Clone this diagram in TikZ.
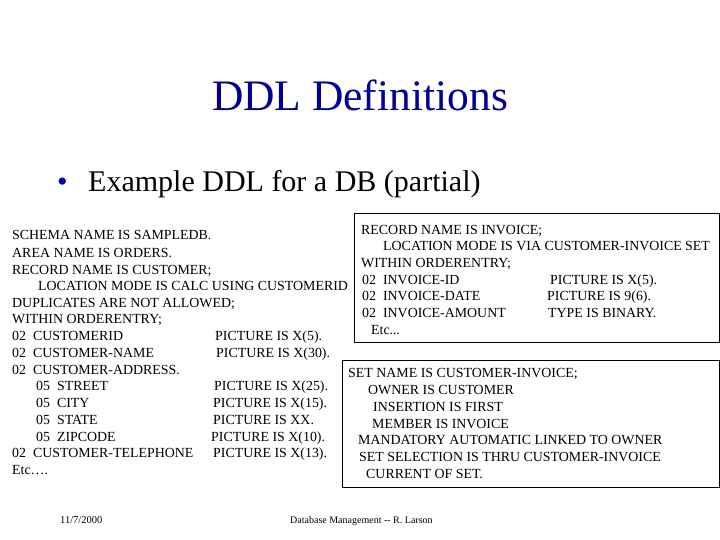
\documentclass[tikz,border=0pt]{standalone}
\usepackage{fontspec}
\setmainfont{Liberation Serif}
\begin{document}
\begin{tikzpicture}[x=1pt,y=-1pt,
  t/.style={anchor=base west,inner sep=0pt,font=\fontsize{13.9}{14}\selectfont},
  box/.style={draw,line width=0.8pt}]
\useasboundingbox (0,0) rectangle (720,540);
\node[inner sep=0pt,font=\fontsize{43.5}{46}\selectfont,text=blue!60!black] (title) at (360,95) {DDL Definitions};
\node[t,font=\fontsize{30}{32}\selectfont,text=blue!60!black] (bul) at (57,192) {•};
\node[t,font=\fontsize{30}{32}\selectfont] (sub) at (88,192) {Example DDL for a DB (partial)};
\foreach \n/\x/\y/\s in {
 l1/12/240/SCHEMA NAME IS SAMPLEDB.,
 l2/12/257/AREA NAME IS ORDERS.,
 l3/12/274/RECORD NAME IS CUSTOMER;,
 l4/38/290/LOCATION MODE IS CALC USING CUSTOMERID,
 l5/12/307/DUPLICATES ARE NOT ALLOWED;,
 l6/12/323/WITHIN ORDERENTRY;,
 l7/12/340/02~ CUSTOMERID,
 l8/12/357/02~ CUSTOMER-NAME,
 l9/12/374/02~ CUSTOMER-ADDRESS.,
 l10/36/390/05~ STREET,
 l11/36/407/05~ CITY,
 l12/36/424/05~ STATE,
 l13/36/441/05~ ZIPCODE,
 l14/12/457/02~ CUSTOMER-TELEPHONE,
 l15/12/474/{Etc….},
 p1/215/340/PICTURE IS X(5).,
 p2/216/357/PICTURE IS X(30).,
 p3/214/390/PICTURE IS X(25).,
 p4/213/407/PICTURE IS X(15).,
 p5/213/424/PICTURE IS XX.,
 p6/211/441/PICTURE IS X(10).,
 p7/213/457/PICTURE IS X(13).,
 r1/361/234/RECORD NAME IS INVOICE;,
 r2/383/250/LOCATION MODE IS VIA CUSTOMER-INVOICE SET,
 r3/361/267/WITHIN ORDERENTRY;,
 r4/362/284/02~ INVOICE-ID,
 r5/362/300/02~ INVOICE-DATE,
 r6/362/317/02~ INVOICE-AMOUNT,
 r7/371/334/{Etc.\kern-0.1pt.\kern-0.1pt.},
 q1/550/284/PICTURE IS X(5).,
 q2/547/300/PICTURE IS 9(6).,
 q3/548/317/TYPE IS BINARY.,
 s1/348/377/SET NAME IS CUSTOMER-INVOICE;,
 s2/368/394/OWNER IS CUSTOMER,
 s3/373/411/INSERTION IS FIRST,
 s4/372/428/MEMBER IS INVOICE,
 s5/358/444/MANDATORY AUTOMATIC LINKED TO OWNER,
 s6/359/461/SET SELECTION IS THRU CUSTOMER-INVOICE,
 s7/366/478/CURRENT OF SET.}
 \node[t] (\n) at (\x,\y) {\s};
\draw[box] (354,213) rectangle (719.5,342);
\draw[box] (342,360) rectangle (719.5,487);
\node[t,font=\fontsize{10.5}{11}\selectfont] (date) at (60,523) {11/7/2000};
\node[t,font=\fontsize{10}{11}\selectfont] (foot) at (290,523) {Database Management -{}- R. Larson};
\end{tikzpicture}
\end{document}
